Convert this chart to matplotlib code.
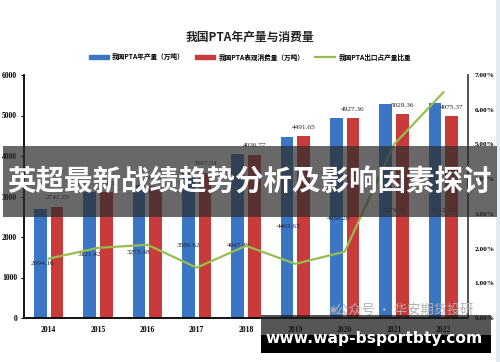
import matplotlib
matplotlib.use("Agg")
import matplotlib.pyplot as plt
from matplotlib.patches import Rectangle, Patch
from matplotlib.lines import Line2D
import numpy as np

years = ["2014", "2015", "2016", "2017", "2018", "2019", "2020", "2021", "2022"]
production = [2694.16, 3121.42, 3275.48, 3586.62, 4047.46, 4463.63, 4950.26, 5279.21, 5312.92]
consumption = [2741.25, 3100.50, 3250.60, 3587.04, 4036.77, 4491.65, 4927.36, 5029.36, 4975.37]
export_ratio = [1.71, 2.02, 2.11, 1.45, 2.08, 1.56, 1.91, 5.00, 6.50]
left_ticks = [0, 1000, 2000, 3000, 4000, 5000, 6000]
right_ticks = [0, 1, 2, 3, 4, 5, 6, 7]

# positions of the production labels (as drawn in the source)
prod_label_dx = [-0.12, -0.17, -0.18, -0.17, -0.15, -0.14, -0.13, 0.0, 0.0]
prod_label_y = [1358, 1556, 1605, 1778, 1778, 2247, 2469, 2642, 2642]

CJK = ["Noto Sans CJK SC", "DejaVu Sans"]
SERIF = ["Liberation Serif", "DejaVu Serif"]

W, H = 500, 362
fig = plt.figure(figsize=(W / 100, H / 100), dpi=100)
fig.patch.set_facecolor("white")

def fx(px):
    return px / W

def fy(py):
    return 1 - py / H

ax = fig.add_axes([fx(24), fy(318), fx(468) - fx(24), fy(75) - fy(318)])
ax2 = ax.twinx()

x = np.arange(len(years))
bw = 0.26
off = 0.17
blue = "#3b76c4"
red = "#c93a3a"
green = "#97bd4f"

ax.bar(x - off, production, width=bw, color=blue, zorder=2)
ax.bar(x + off, consumption, width=bw, color=red, zorder=2)

for i, v in enumerate(consumption):
    ax.annotate(f"{v:.2f}", (x[i] + off, v), xytext=(0, 6.5), textcoords="offset points",
                ha="center", va="center", fontsize=5.2, family=SERIF, color="#222")
for i, v in enumerate(production):
    ax.text(x[i] + prod_label_dx[i], prod_label_y[i], f"{v:.2f}", ha="center", va="center",
            fontsize=5.2, family=SERIF, color="#222", zorder=4)

ax2.plot(x, export_ratio, color=green, lw=1.6, zorder=3)

ax.set_xlim(-0.5, len(years) - 0.5)
ax.set_ylim(0, 6000)
ax2.set_ylim(0, 7)
ax.set_xticks(x)
ax.set_xticklabels(years, fontsize=5.5, family=SERIF, fontweight="bold")
ax.set_yticks(left_ticks)
ax.set_yticklabels([str(t) for t in left_ticks], fontsize=5.5, family=SERIF, fontweight="bold")
ax2.set_yticks(right_ticks)
ax2.set_yticklabels([f"{t:.2f}%" for t in right_ticks], fontsize=5.2, family=SERIF, fontweight="bold")
ax.tick_params(axis="x", length=0, pad=6)
ax.tick_params(axis="y", length=2, width=0.8, pad=3)
ax2.tick_params(axis="y", length=0, pad=5)

for a in (ax, ax2):
    a.spines["top"].set_visible(False)
    a.patch.set_visible(False)
ax.spines["right"].set_visible(False)
ax2.spines["left"].set_visible(False)
ax2.spines["bottom"].set_visible(False)
ax.spines["left"].set_linewidth(1.3)
ax.spines["bottom"].set_linewidth(1.3)
ax2.spines["right"].set_linewidth(1.3)
ax2.spines["right"].set_color("#444")

fig.text(0.5, fy(37), "我国PTA年产量与消费量", ha="center", va="center",
         fontsize=8.5, family=CJK, fontweight="bold", color="#222")

handles = [Patch(color=blue), Patch(color=red), Line2D([], [], color=green, lw=1.6)]
labels = ["我国PTA年产量（万吨）", "我国PTA表观消费量（万吨）", "我国PTA出口占产量比重"]
fig.legend(handles, labels, loc="center", bbox_to_anchor=(0.5, fy(57)), ncol=3, frameon=False,
           prop={"family": CJK, "size": 4.8, "weight": "bold"}, handlelength=3.0, handleheight=0.6,
           columnspacing=1.6, handletextpad=0.5)

# right light border
fig.add_artist(Rectangle((fx(496), 0), fx(4), 1, transform=fig.transFigure,
                         facecolor="#e3eaf2", edgecolor="none"))

# watermark
fig.text(fx(333), fy(310), "◉", fontsize=7.5, color="#aaaaaa", ha="center", va="center", family=["DejaVu Sans"])
fig.text(fx(404), fy(310), "公众号 · 华安期货投研", fontsize=9.5, color="#b0b0b0", ha="center",
         va="center", family=CJK)

# central banner
fig.add_artist(Rectangle((fx(3), fy(217)), fx(497) - fx(3), fy(146) - fy(217), transform=fig.transFigure,
                         facecolor="#2e2e2e", alpha=0.72, edgecolor="none", zorder=10))
fig.text(0.5, fy(183), "英超最新战绩趋势分析及影响因素探讨", ha="center", va="center",
         fontsize=20.5, family=CJK, fontweight="bold", color="white", zorder=11)

# bottom url box
fig.add_artist(Rectangle((fx(261), fy(335)), fx(491) - fx(261), fy(315) - fy(335), transform=fig.transFigure,
                         facecolor="#1e1e1e", alpha=0.75, edgecolor="none", zorder=10))
fig.add_artist(Rectangle((fx(261), fy(353)), fx(491) - fx(261), fy(335) - fy(353), transform=fig.transFigure,
                         facecolor="black", edgecolor="none", zorder=10))
fig.text(fx(374), fy(338), "www.wap-bsportbty.com", ha="center", va="center",
         fontsize=11.2, family=["DejaVu Sans"], fontweight="bold", color="white", zorder=11)

fig.savefig("out.png", dpi=100)
